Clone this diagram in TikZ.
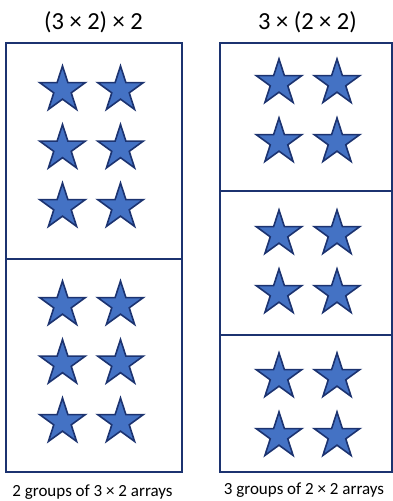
\documentclass[tikz,border=0pt]{standalone}
\usepackage{fontspec}
\setmainfont{Carlito}
\usetikzlibrary{shapes.geometric}
\definecolor{starblue}{HTML}{4472C4}
\definecolor{navy}{HTML}{1C3370}
\tikzset{
  st/.style   ={star,star points=5,star point ratio=2.618,draw=navy,fill=starblue,
                line width=1.6pt,minimum size=48pt,inner sep=0pt},
  frame/.style={draw=navy,line width=1.8pt},
  ttl/.style  ={font=\fontsize{24.5}{28}\selectfont,inner sep=0pt},
  grpcap/.style={font=\fontsize{17}{20}\selectfont,inner sep=0pt},
}

\begin{document}
\begin{tikzpicture}[x=1pt,y=-1pt]
  \useasboundingbox (0,0) rectangle (393,501);
  % titles
  \node[ttl] (tL) at (93.5,22) {(3 × 2) × 2};
  \node[ttl] (tR) at (307.5,22) {3 × (2 × 2)};
  % left: two groups of 3 x 2
  \draw[frame] (6,43) rectangle (182,472);
  \draw[frame] (6,259) -- (182,259);
  \foreach \g/\y in {1/90,2/305}
    \foreach \r in {0,1,2}
      \foreach \c/\x in {1/62.5,2/120.5}
        \node[st] (L\g\r\c) at (\x,\y+58.5*\r) {};
  % right: three groups of 2 x 2
  \draw[frame] (220,43) rectangle (392,472);
  \draw[frame] (220,191) -- (392,191);
  \draw[frame] (220,335) -- (392,335);
  \foreach \g/\y in {1/83,2/234,3/377}
    \foreach \r in {0,1}
      \foreach \c/\x in {1/279,2/337}
        \node[st] (R\g\r\c) at (\x,\y+59*\r) {};
  % captions
  \node[grpcap] (cL) at (92.5,492) {2 groups of 3 × 2 arrays};
  \node[grpcap] (cR) at (304,490) {3 groups of 2 × 2 arrays};
\end{tikzpicture}
\end{document}
